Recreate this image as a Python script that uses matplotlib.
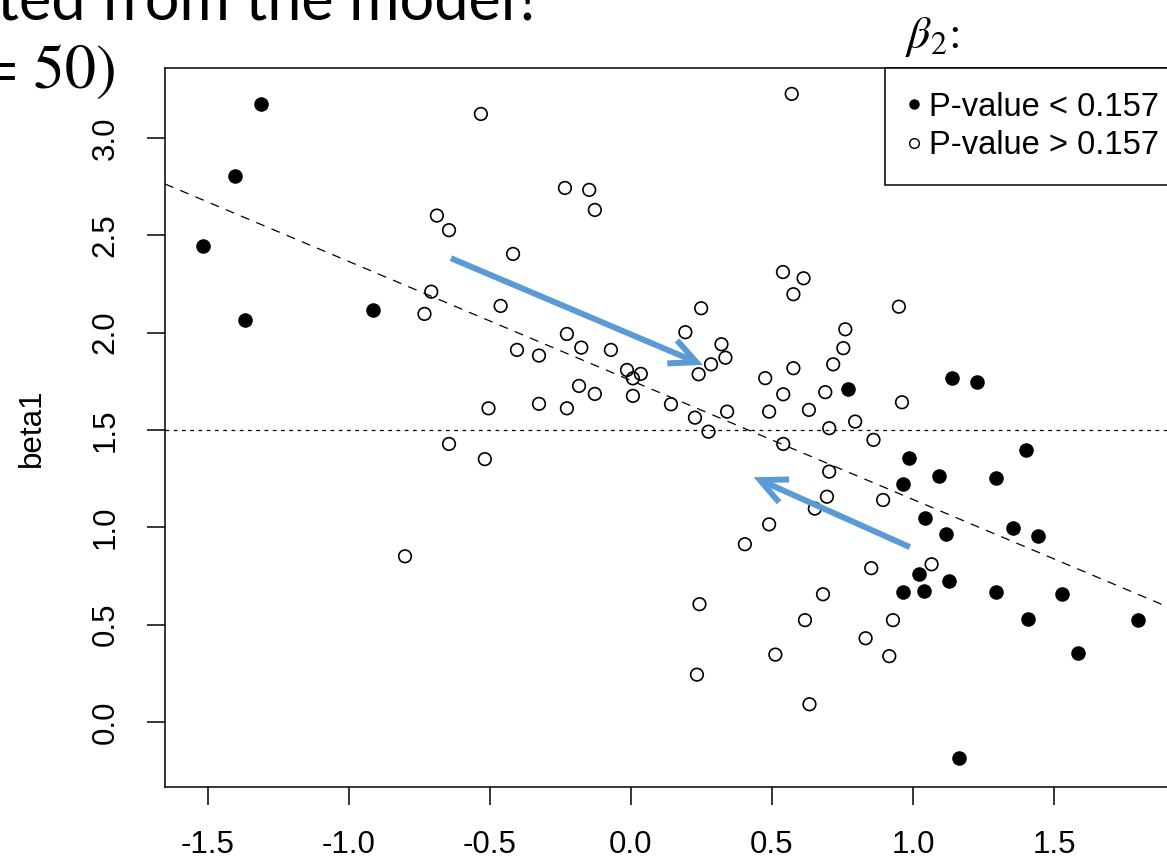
import matplotlib
matplotlib.use("Agg")
import matplotlib.pyplot as plt
from matplotlib.patches import FancyArrowPatch
from matplotlib.lines import Line2D

# ---------------- data ----------------
sig_x = [-1.312, -1.403, -1.518, -1.368, -0.915, 0.768, 1.137, 1.228, 0.987, 1.400,
         1.093, 1.293, 0.966, 1.044, 1.356, 1.442, 1.116, 1.023, 1.128, 0.966,
         1.038, 1.293, 1.527, 1.407, 1.797, 1.584, 1.163]
sig_y = [3.174, 2.805, 2.445, 2.065, 2.116, 1.711, 1.766, 1.745, 1.358, 1.397,
         1.262, 1.252, 1.221, 1.046, 0.995, 0.954, 0.964, 0.760, 0.726, 0.666,
         0.675, 0.666, 0.656, 0.531, 0.523, 0.356, -0.186]

ns_x = [-0.532, -0.688, -0.645, -0.418, -0.234, -0.148, -0.128, -0.708, -0.732, -0.462,
        -0.227, -0.404, -0.326, -0.176, -0.071, -0.014, 0.007, 0.035, -0.184, -0.128,
        0.007, -0.505, -0.326, -0.227, -0.645, -0.518, -0.801,
        0.570, 0.539, 0.612, 0.576, 0.950, 0.249, 0.193, 0.321, 0.335, 0.284,
        0.240, 0.760, 0.753, 0.717, 0.576, 0.476, 0.540, 0.689, 0.961, 0.490,
        0.631, 0.795, 0.703, 0.860, 0.540, 0.341, 0.227, 0.275, 0.142,
        0.703, 0.695, 0.652, 0.894, 0.490, 0.404, 0.852, 1.066, 0.681, 0.243,
        0.617, 0.929, 0.832, 0.512, 0.916, 0.234, 0.633]
ns_y = [3.123, 2.601, 2.526, 2.404, 2.743, 2.733, 2.630, 2.210, 2.096, 2.137,
        1.993, 1.911, 1.882, 1.923, 1.911, 1.808, 1.765, 1.788, 1.726, 1.685,
        1.675, 1.611, 1.634, 1.611, 1.428, 1.350, 0.851,
        3.226, 2.311, 2.279, 2.197, 2.133, 2.125, 2.002, 1.940, 1.871, 1.837,
        1.786, 2.017, 1.920, 1.837, 1.817, 1.766, 1.683, 1.694, 1.642, 1.594,
        1.603, 1.543, 1.509, 1.449, 1.428, 1.594, 1.563, 1.491, 1.632,
        1.286, 1.157, 1.096, 1.140, 1.015, 0.913, 0.790, 0.810, 0.656, 0.605,
        0.523, 0.523, 0.430, 0.346, 0.338, 0.243, 0.091]

x_ticks = [-1.5, -1.0, -0.5, 0.0, 0.5, 1.0, 1.5]
y_ticks = [0.0, 0.5, 1.0, 1.5, 2.0, 2.5, 3.0]
true_beta1 = 1.5
fit_intercept = 1.754
fit_slope = -0.611
legend_labels = ["P-value < 0.157", "P-value > 0.157"]
y_label = "beta1"

# annotation arrows (start, end) in data units
arrow1 = ((-0.638, 2.382), (0.255, 1.834))
arrow2 = ((0.989, 0.898), (0.435, 1.257))

# ---------------- style ----------------
plt.rcParams["font.family"] = ["Liberation Sans", "DejaVu Sans"]
plt.rcParams["mathtext.fontset"] = "stix"
plt.rcParams["axes.unicode_minus"] = False

W, H = 1167, 859
fig = plt.figure(figsize=(W / 100, H / 100), dpi=100)
fig.patch.set_facecolor("white")
ax = fig.add_axes([165 / W, (H - 787) / H, (1175 - 165) / W, (787 - 68) / H])
ax.set_xlim(-1.652, 1.929)
ax.set_ylim(-0.334, 3.359)

ax.axhline(true_beta1, color="black", linestyle=(0, (3.0, 3.6)), linewidth=0.9, zorder=1)
ax.axline((0, fit_intercept), slope=fit_slope, color="black",
          linestyle=(0, (7.2, 6.0)), linewidth=0.9, zorder=1)

ax.scatter(ns_x, ns_y, s=82, facecolors="none", edgecolors="black", linewidths=1.2, zorder=3)
ax.scatter(sig_x, sig_y, s=110, color="black", linewidths=0, zorder=3)

for (p0, p1) in (arrow1, arrow2):
    arr = FancyArrowPatch(p0, p1, arrowstyle="->,head_length=0.95,head_width=0.45",
                          mutation_scale=20, color="#5B9BD5", linewidth=4.3,
                          shrinkA=0, shrinkB=0, capstyle="butt", joinstyle="miter", zorder=4)
    ax.add_patch(arr)

ax.set_xticks(x_ticks)
ax.set_xticklabels([f"{v:.1f}" for v in x_ticks])
ax.set_yticks(y_ticks)
ax.set_yticklabels([f"{v:.1f}" for v in y_ticks], rotation=90, va="center")
ax.tick_params(axis="x", length=13, width=1.1, pad=18, labelsize=22.5, colors="black")
ax.tick_params(axis="y", length=13, width=1.1, pad=19, labelsize=22.5, colors="black")
for sp in ax.spines.values():
    sp.set_linewidth(1.1)
    sp.set_color("black")

ax.set_ylabel(y_label, fontsize=22.5)
ax.yaxis.set_label_coords(-0.117, 0.5)

handles = [Line2D([], [], marker="o", linestyle="none", color="black", markersize=6.5),
           Line2D([], [], marker="o", linestyle="none", markerfacecolor="white",
                  markeredgecolor="black", markeredgewidth=1.0, markersize=7)]
leg = ax.legend(handles, legend_labels, loc="upper left", bbox_to_anchor=((885 - 165) / 1010, 1.0),
                borderaxespad=0, fontsize=23.5, frameon=True, fancybox=False, framealpha=1,
                edgecolor="black", borderpad=0.72, labelspacing=0.24, handlelength=0.34,
                handletextpad=0.3, numpoints=1)
leg.get_frame().set_linewidth(1.1)

# slide overlay texts
fig.text(-3 / W, 1 - 20 / H, "ted from the model?", family=["Lato", "DejaVu Sans"],
         fontsize=44, ha="left", va="baseline", color="black")
fig.text(117 / W, 1 - 88 / H, "= 50)", family="STIXGeneral", fontsize=45,
         ha="right", va="baseline", color="black")
fig.text(905 / W, 1 - 48 / H, r"$\beta_2$:", family="STIXGeneral", fontsize=33,
         ha="left", va="baseline", color="black")

fig.savefig("out.png", dpi=100, facecolor="white")
